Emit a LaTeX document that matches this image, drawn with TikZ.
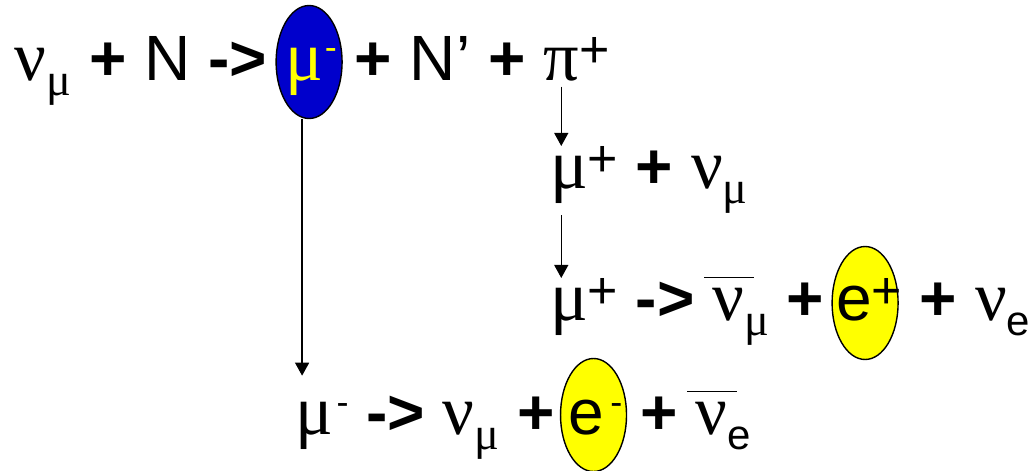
\documentclass[tikz,border=0pt]{standalone}
\usepackage{fontspec}
\setmainfont{Liberation Sans}
\newfontfamily\grk[Scale=1.1]{Liberation Serif}
\usetikzlibrary{positioning,arrows.meta,backgrounds,shapes.geometric}

\definecolor{mublue}{RGB}{0,0,204}
\definecolor{eyellow}{RGB}{255,255,0}

\newcommand\gr[1]{{\grk #1}}
\newcommand\op[1]{\textbf{#1}}
\newcommand\up[1]{\raisebox{6pt}{\fontsize{26}{26}\selectfont #1}}
\newcommand\upm{\raisebox{10pt}{\fontsize{18}{18}\selectfont -}}
\newcommand\dn[1]{\raisebox{-7.5pt}{\fontsize{21}{21}\selectfont #1}}
\newcommand\anti[1]{\leavevmode\rlap{\kern-4pt\raisebox{21pt}{\rule{25pt}{0.75pt}}}#1}

\tikzset{
  term/.style={inner sep=0pt, outer sep=0pt, font=\fontsize{32}{38}\selectfont},
  blob/.style={ellipse, draw=black, line width=0.7pt, minimum width=33pt,
    minimum height=56.5pt, inner sep=0pt},
  decay/.style={-{Triangle[width=7pt,length=6.5pt]}, line width=0.6pt},
}

\begin{document}
\begin{tikzpicture}[x=0.5pt,y=-0.5pt]
  \useasboundingbox (0,0) rectangle (1029,471);

  % neutrino hits the nucleus
  \node[term, anchor=base west] (n1) at (15,80) {\gr{ν}\dn{\gr{μ}} \op{+} N \op{->}};
  \node[term, base right=9pt of n1, text=eyellow] (mum) {\gr{μ}\kern1pt\upm};
  \node[term, base right=0pt of mum] (n1b) {\ \op{+} N’ \op{+}};
  \node[term, base right=9pt of n1b] (pi) {\gr{π}};
  \node[term, base right=0pt of pi] (pisup) {\up{+}};

  % pion decay
  \node[term, anchor=base west] (mup2) at (550,188) {\gr{μ}\up{+}};
  \node[term, base right=0pt of mup2] (n2) {\ \op{+} \gr{ν}\dn{\gr{μ}}};

  % mu+ decay
  \node[term, anchor=base west] (mup3) at (550,320) {\gr{μ}\up{+}};
  \node[term, base right=0pt of mup3] (n3a) {\ \op{->} \anti{\gr{ν}}\dn{\gr{μ}} \op{+}};
  \node[term, base right=6pt of n3a] (ep) {e\up{+}};
  \node[term, base right=0pt of ep] (n3b) {\ \op{+} \gr{ν}\dn{e}};

  % mu- decay
  \node[term, anchor=base west] (mum4) at (295,434) {\gr{μ}\kern2pt\upm};
  \node[term, base right=0pt of mum4] (n4a) {\ \op{->} \gr{ν}\dn{\gr{μ}} \op{+}};
  \node[term, base right=7pt of n4a] (em) {e\kern3pt\upm};
  \node[term, base right=0pt of em] (n4b) {\ \op{+} \anti{\gr{ν}}\dn{e}};

  % ellipses behind the marked particles
  \begin{scope}[on background layer]
    \node[blob, fill=mublue] (mumE) at ([xshift=-1pt,yshift=9pt]mum.base) {};
    \node[blob, fill=eyellow] (epE) at ([xshift=-2pt,yshift=8.5pt]ep.base) {};
    \node[blob, fill=eyellow] (emE) at ([xshift=-1pt,yshift=9.5pt]em.base) {};
  \end{scope}

  % decay arrows
  \draw[decay, shorten >=13pt] ([xshift=-3.5pt]mumE.south) -- ([xshift=-3.5pt]mumE.south |- mum4.north);
  \draw[decay] ([yshift=-3pt]pi.south) -- (pi.south |- mup2.north);
  \draw[decay] ([yshift=-6pt]mup2.south -| pi.south) -- (pi.south |- mup3.north);
\end{tikzpicture}
\end{document}
